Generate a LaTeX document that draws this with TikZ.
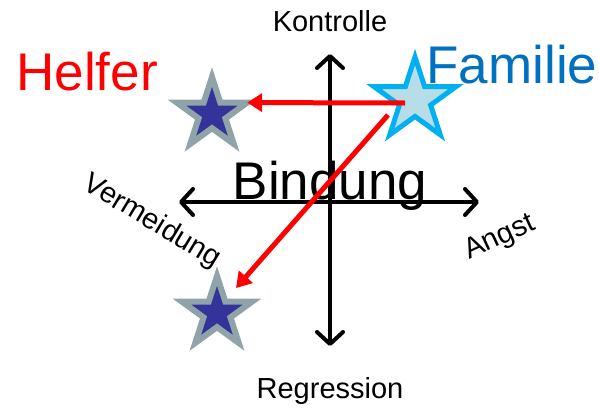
\documentclass[tikz,border=0pt]{standalone}
\usepackage{fontspec}
\setmainfont{Liberation Sans}
\usetikzlibrary{arrows.meta,shapes.geometric,calc}
\definecolor{famblue}{RGB}{0,112,192}
\definecolor{cyanb}{RGB}{0,176,240}
\definecolor{cyanf}{RGB}{183,222,232}
\definecolor{starb}{RGB}{143,163,168}
\definecolor{starf}{RGB}{51,51,153}
\tikzset{
  axis/.style={line width=4pt,line cap=round,line join=round,
    {Straight Barb[length=12pt,width=26pt,line cap=round,line join=round]}-{Straight Barb[length=12pt,width=26pt,line cap=round,line join=round]}},
  small/.style={font=\fontsize{29}{34}\selectfont,inner sep=0pt},
  big/.style={font=\fontsize{53}{60}\selectfont,inner sep=0pt},
  starbase/.style={star,star points=5,star point ratio=2.618,inner sep=0pt,outer sep=0pt,line join=miter,shape border rotate=0},
  darkstar/.style={starbase,draw=starb,fill=starf,line width=6pt,minimum size=74pt},
  lightstar/.style={starbase,draw=cyanb,fill=cyanf,line width=5pt,minimum size=86pt},
  redarrow/.style={draw=red,line width=5pt,-{Triangle[length=15pt,width=18pt]}}
}
\begin{document}
\begin{tikzpicture}[x=1pt,y=-1pt]
\useasboundingbox (0,0) rectangle (599,407);
\coordinate (vtop) at (330,54);
\coordinate (vbot) at (330,346);
\coordinate (hl) at (179,202);
\coordinate (hr) at (479,202);
\draw[axis] (vbot) -- (vtop);
\draw[axis] (hl) -- (hr);
\node[small,anchor=base] (kon) at (330,31) {Kontrolle};
\node[small,anchor=base] (reg) at (330,398) {Regression};
\node[small,rotate=-31] (verm) at (152,222) {Vermeidung};
\node[small,rotate=25] (angst) at (500,238) {Angst};
\node[big,anchor=base] (bind) at (330,199) {Bindung};
\node[big,anchor=base,text=red] (helfer) at (87,90) {Helfer};
\node[big,anchor=base,text=famblue] (famtxt) at (512,83) {Familie};
\node[darkstar] (s1) at (212,114) {};
\node[darkstar] (s2) at (217,313) {};
\node[lightstar] (fam) at (415,100) {};
\draw[redarrow] ($(fam.center)+(-10,3)$) -- (s1.outer point 5);
\draw[redarrow] ($(fam.center)+(-27,15)$) -- ($(s2.center)+(19,-25)$);
\end{tikzpicture}
\end{document}
